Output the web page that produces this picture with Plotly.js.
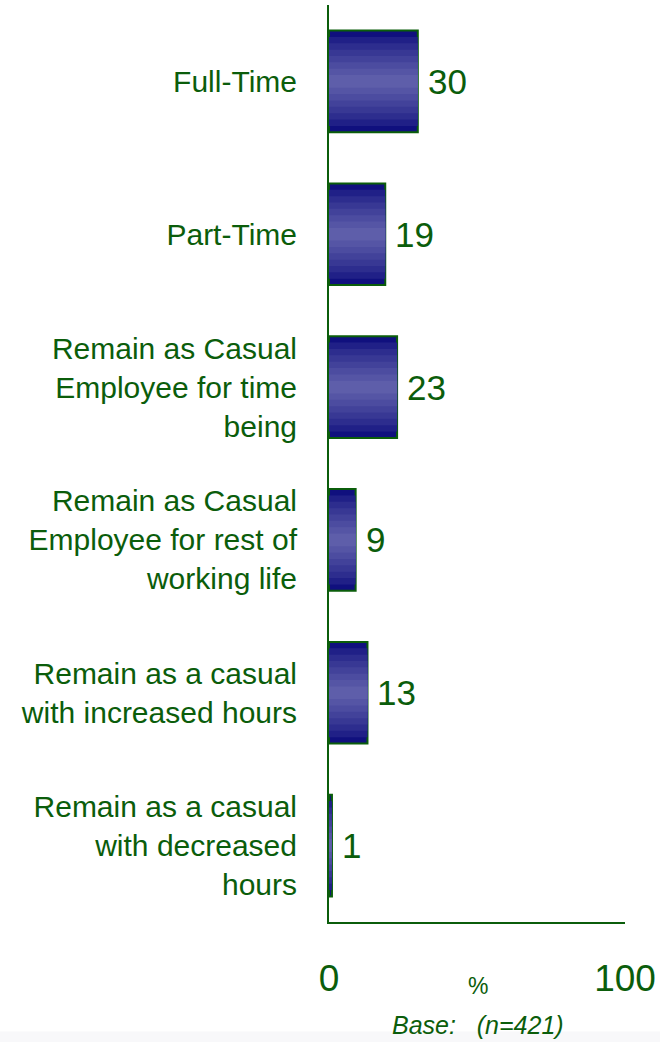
<!DOCTYPE html>
<html>
<head>
<meta charset="utf-8">
<script src="https://cdn.plot.ly/plotly-3.0.1.min.js"></script>
<style>html,body{margin:0;padding:0;background:#fff;}#chart{width:660px;height:1042px;}</style>
</head>
<body>
<div id="chart"></div>
<script>
// ---- data ----
var categories = [
  "Full-Time",
  "Part-Time",
  "Remain as Casual<br>Employee for time<br>being",
  "Remain as Casual<br>Employee for rest of<br>working life",
  "Remain as a casual<br>with increased hours",
  "Remain as a casual<br>with decreased<br>hours"
];
var values = [30, 19, 23, 9, 13, 1];
var xTickVals = [0, 100];
var xTickText = ["0", "100"];
var unitLabel = "%";
var baseLabel = "Base:&nbsp;&nbsp; (n=421)";

// ---- style ----
var green = "#0b5d0b";
var font = "'Liberation Sans', Arial, sans-serif";
var outerWidth = 0.665;
var nBands = 8;
var dark = [16, 16, 126], light = [94, 94, 170];

var traces = [];
for (var k = 0; k < nBands; k++) {
  var t = k / (nBands - 1);
  var c = dark.map(function (d, i) { return Math.round(d + (light[i] - d) * Math.pow(t, 0.8)); });
  var w = outerWidth * (1 - k / nBands);
  traces.push({
    type: "bar",
    orientation: "h",
    x: values,
    y: categories,
    width: categories.map(function () { return w; }),
    marker: {
      color: "rgb(" + c.join(",") + ")",
      line: { color: k === 0 ? green : "rgba(0,0,0,0)", width: k === 0 ? 2 : 0 }
    },
    hoverinfo: "skip",
    showlegend: false
  });
}

var annotations = values.map(function (v, i) {
  return {
    x: v, y: categories[i], xref: "x", yref: "y",
    text: String(v), showarrow: false, xanchor: "left", yanchor: "middle",
    xshift: 8, font: { family: font, size: 35, color: green }
  };
});
annotations.push({
  x: 0.503, y: -0.070, xref: "paper", yref: "paper", text: unitLabel,
  showarrow: false, xanchor: "center", yanchor: "middle",
  font: { family: font, size: 23, color: green }
});
annotations.push({
  x: 0.503, y: -0.1125, xref: "paper", yref: "paper", text: "<i>" + baseLabel + "</i>",
  showarrow: false, xanchor: "center", yanchor: "middle",
  font: { family: font, size: 25, color: green }
});

var layout = {
  width: 660, height: 1042,
  margin: { l: 329, r: 35, t: 5, b: 120 },
  paper_bgcolor: "#ffffff", plot_bgcolor: "#ffffff",
  barmode: "overlay",
  showlegend: false,
  hovermode: false,
  font: { family: font, color: green },
  xaxis: {
    range: [0, 100], tickvals: xTickVals, ticktext: xTickText,
    showgrid: false, zeroline: false, showline: true, linecolor: green, linewidth: 2,
    ticks: "", tickfont: { family: font, size: 37, color: green },
    ticklabelstandoff: 23, fixedrange: true
  },
  yaxis: {
    type: "category", categoryorder: "array", categoryarray: categories,
    range: [5.5, -0.5],
    showgrid: false, zeroline: false, showline: true, linecolor: green, linewidth: 2,
    ticks: "", tickfont: { family: font, size: 30, color: green },
    ticklabelstandoff: 24, fixedrange: true
  },
  annotations: annotations,
  shapes: [{
    type: "rect", xref: "paper", yref: "paper", x0: -1.2, x1: 1.2, y0: -0.1195, y1: -0.14,
    fillcolor: "#f8f8fa", line: { width: 0 }, layer: "below"
  }]
};

Plotly.newPlot("chart", traces, layout, { displayModeBar: false, staticPlot: true });
</script>
</body>
</html>
